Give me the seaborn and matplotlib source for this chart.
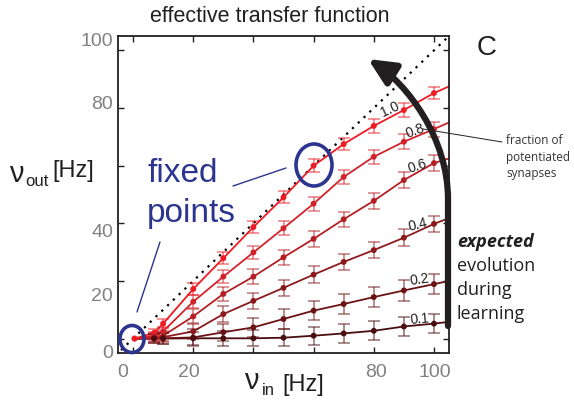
import numpy as np
import pandas as pd
import matplotlib
matplotlib.use("Agg")
import matplotlib.pyplot as plt
import seaborn as sns
from matplotlib.patches import Ellipse, FancyArrowPatch
from matplotlib.path import Path
from matplotlib.lines import Line2D

# ---------------- data ----------------
fractions = ["1.0", "0.8", "0.6", "0.4", "0.2", "0.1"]
nu_in = [7, 10, 20, 30, 40, 50, 60, 70, 80, 90, 100]
rate_10 = [2.0, 5.2, 17.2, 27.9, 38.7, 49.0, 60.0, 67.5, 73.8, 79.3, 85.2]
rate_08 = [1.0, 2.5, 12.8, 21.5, 29.9, 38.3, 46.8, 56.1, 63.1, 68.3, 72.7]
rate_06 = [0.5, 1.0, 7.7, 15.5, 21.5, 28.2, 34.6, 41.4, 47.8, 55.0, 60.9]
rate_04 = [0.2, 0.5, 2.5, 8.5, 13.1, 17.6, 22.2, 26.6, 30.7, 35.0, 39.8]
rate_02 = [0.0, 0.1, 0.4, 2.2, 3.9, 6.8, 9.7, 12.0, 14.4, 16.7, 18.9]
rate_01 = [0.0, 0.0, 0.1, 0.1, 0.1, 0.3, 1.0, 1.8, 2.7, 4.2, 5.2]
err_10 = [1.2, 1.5, 2.0, 2.0, 2.1, 2.1, 2.2, 2.2, 2.3, 2.3, 2.2]
err_08 = [1.2, 1.6, 2.2, 2.3, 2.3, 2.4, 2.4, 2.5, 2.5, 2.6, 2.6]
err_06 = [1.3, 1.7, 2.4, 2.5, 2.6, 2.6, 2.7, 2.7, 2.8, 2.8, 2.8]
err_04 = [1.4, 1.8, 2.6, 2.7, 2.8, 2.8, 2.9, 2.7, 2.9, 3.0, 2.9]
err_02 = [1.5, 1.9, 2.8, 3.0, 3.2, 3.3, 3.4, 3.5, 3.6, 3.8, 3.6]
err_01 = [1.5, 1.9, 2.3, 2.6, 2.8, 3.0, 3.1, 3.2, 3.3, 3.4, 3.4]
edge_x = 105
edge_rate = [87.5, 75.0, 62.5, 41.8, 20.0, 5.8]
fixed_low = (0.5, 0.0)
rates = [rate_10, rate_08, rate_06, rate_04, rate_02, rate_01]
errs = [err_10, err_08, err_06, err_04, err_02, err_01]
colors = ["#ED1C24", "#D2232A", "#B41F24", "#8C1A1D", "#6B1214", "#4A0E10"]
ytick_vals = [0, 20, 40, 60, 80, 100]
xtick_vals = [0, 20, 40, 60, 80, 100]
ylabel_vals = ["100", "80", "40", "20", "0"]
xlabel_vals = ["0", "20", "80", "100"]

# ---------------- style ----------------
sns.set_style("ticks")
plt.rcParams["font.family"] = ["Liberation Sans", "DejaVu Sans"]

W, H = 574, 402
AX_L, AX_R, AX_T, AX_B = 118, 449, 37, 354
XLIM = (-5, 105)
YLIM = (-5, 105)

def px2d(px, py):
    x = XLIM[0] + (px - AX_L) / (AX_R - AX_L) * (XLIM[1] - XLIM[0])
    y = YLIM[0] + (AX_B - py) / (AX_B - AX_T) * (YLIM[1] - YLIM[0])
    return x, y

def fx(px):
    return px / W

def fy(py):
    return 1 - py / H

fig = plt.figure(figsize=(W / 100, H / 100), dpi=100)
ax = fig.add_axes([AX_L / W, (H - AX_B) / H, (AX_R - AX_L) / W, (AX_B - AX_T) / H])

palette = dict(zip(fractions, colors))
order = fractions[::-1]

rows = []
pts = []
for f, r, e in zip(fractions, rates, edge_rate):
    xs = [fixed_low[0]] + nu_in + [edge_x]
    ys = [fixed_low[1]] + r + [e]
    for xv, yv in zip(xs, ys):
        rows.append({"nu_in": xv, "nu_out": yv, "frac": f})
    for xv, yv in zip(nu_in, r):
        pts.append({"nu_in": xv, "nu_out": yv, "frac": f})
df = pd.DataFrame(rows)
dfp = pd.DataFrame(pts)

# identity line
ax.plot([-4, 104.3], [-4, 104.3], color="black", lw=1.6, ls=(0, (1, 2.6)), zorder=1)

sns.lineplot(data=df, x="nu_in", y="nu_out", hue="frac", hue_order=order,
             palette=palette, estimator=None, sort=True, lw=1.3, legend=False,
             ax=ax, zorder=2)
for f, r, e, c in list(zip(fractions, rates, errs, colors))[::-1]:
    ax.errorbar(nu_in, r, yerr=e, fmt="none", ecolor=c, alpha=0.6,
                elinewidth=1.1, capsize=4, capthick=1.1, zorder=2.5)
sns.scatterplot(data=dfp, x="nu_in", y="nu_out", hue="frac", hue_order=order,
                palette=palette, s=18, edgecolor="none", legend=False, ax=ax,
                zorder=3)
ax.scatter([fixed_low[0]], [fixed_low[1]], s=20, color=colors[0], zorder=4,
           edgecolor="none")

ax.set_xlim(*XLIM)
ax.set_ylim(*YLIM)
ax.set_xlabel("")
ax.set_ylabel("")

# ticks: marks at 0..100, labels at their drawn spots
ax.set_xticks(xtick_vals)
ax.set_yticks(ytick_vals)
ax.set_xticks([-3.3, 18.6, 80.7, 100.3], minor=True)
ax.set_xticklabels(xlabel_vals, minor=True)
ax.set_yticks([104, 82.4, 37.7, 15.5, -4.3], minor=True)
ax.set_yticklabels(ylabel_vals, minor=True)
ax.tick_params(which="major", direction="in", length=4, width=1, top=True,
               right=True, labelbottom=False, labelleft=False, color="#231f20")
ax.tick_params(which="minor", length=0, labelsize=14, labelcolor="#808080")
ax.tick_params(axis="x", which="minor", pad=7)
ax.tick_params(axis="y", which="minor", pad=3.5)
for s in ax.spines.values():
    s.set_visible(True)
    s.set_linewidth(1.3)
    s.set_color("#231f20")

# curve labels
lab_pos = [(390, 109, 25), (415, 131, 20), (417, 166, 18), (418, 225, 14),
           (420, 280, 8), (420, 319, 5)]
for f, (px, py, rot) in zip(fractions, lab_pos):
    x, y = px2d(px, py)
    ax.text(x, y, f, fontsize=10, color="#231f20", rotation=rot,
            ha="center", va="center", zorder=5)

# fixed point circles
blue = "#2B3590"
cx, cy = px2d(314, 166)
ax.add_patch(Ellipse((cx, cy), 36 * 110 / 331, 42 * 110 / 317, fill=False,
                     ec=blue, lw=2.6, zorder=6, clip_on=False))
cx, cy = px2d(132, 340)
ax.add_patch(Ellipse((cx, cy), 24 * 110 / 331, 27 * 110 / 317, fill=False,
                     ec=blue, lw=2.6, zorder=6, clip_on=False))
fig.text(fx(147), fy(182), "fixed", fontsize=24, color=blue, va="baseline", ha="left")
fig.text(fx(147), fy(222), "points", fontsize=24, color=blue, va="baseline", ha="left")
fig.add_artist(Line2D([fx(233), fx(286)], [fy(187), fy(169)], color=blue, lw=1.0,
                      transform=fig.transFigure))
fig.add_artist(Line2D([fx(160), fx(137)], [fy(243), fy(313)], color=blue, lw=1.0,
                      transform=fig.transFigure))

# learning arrow
verts_px = [(448, 327), (448, 200), (448, 140), (408, 85), (368, 60)]
verts = [px2d(*p) for p in verts_px]
path = Path(verts, [Path.MOVETO, Path.LINETO, Path.CURVE4, Path.CURVE4, Path.CURVE4])
arr = FancyArrowPatch(path=path, arrowstyle="-|>,head_length=16,head_width=7.5",
                      mutation_scale=1, lw=4.5, color="#231f20", zorder=7,
                      clip_on=False, transform=ax.transData)
ax.add_patch(arr)

# texts outside
fig.text(fx(270), fy(17), "effective transfer function", fontsize=15.5,
         color="#231f20", ha="center", va="center")
fig.text(fx(487), fy(48), "C", fontsize=20, color="#231f20", ha="center", va="center")

fig.text(fx(9), fy(182), "\u03bd", fontsize=21, color="#231f20", va="baseline")
fig.text(fx(25), fy(186), "out", fontsize=12, color="#231f20", va="baseline")
fig.text(fx(52), fy(177), "[Hz]", fontsize=17, color="#231f20", va="baseline")

fig.text(fx(244), fy(389), "\u03bd", fontsize=21, color="#231f20", va="baseline")
fig.text(fx(262), fy(395), "in", fontsize=12, color="#231f20", va="baseline")
fig.text(fx(282), fy(391), "[Hz]", fontsize=17, color="#231f20", va="baseline")

fig.text(fx(506), fy(157), "fraction of\npotentiated\nsynapses", fontsize=8.5,
         family=["Open Sans", "DejaVu Sans"], color="#333333", ha="left",
         va="center", linespacing=1.35)
fig.add_artist(Line2D([fx(423), fx(502)], [fy(130), fy(143)], color="#231f20",
                      lw=0.7, transform=fig.transFigure))

fig.text(fx(457), fy(242), "expected", fontsize=13, fontweight="bold",
         fontstyle="italic", family=["Open Sans", "DejaVu Sans"], color="#231f20",
         ha="left", va="center")
for t, py in [("evolution", 266), ("during", 290), ("learning", 314)]:
    fig.text(fx(457), fy(py), t, fontsize=13, family=["Open Sans", "DejaVu Sans"],
             color="#231f20", ha="left", va="center")

fig.savefig("out.png", dpi=100)
